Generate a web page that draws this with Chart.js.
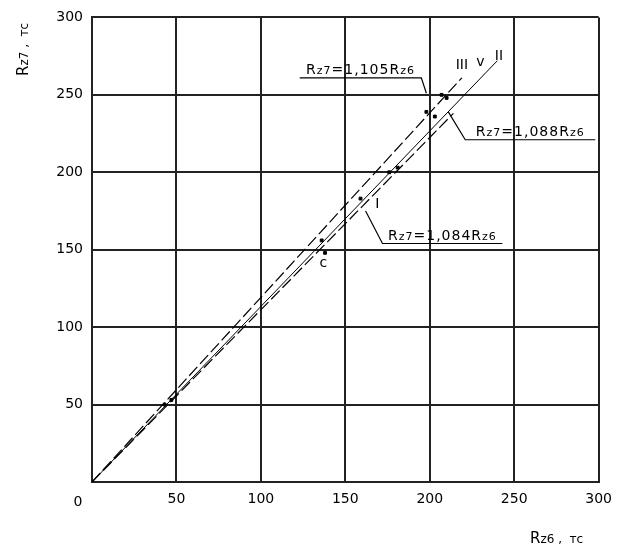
<!DOCTYPE html>
<html>
<head>
<meta charset="utf-8">
<script src="https://cdn.jsdelivr.net/npm/chart.js@4"></script>
<style>
  html, body { margin: 0; padding: 0; background: #fff; }
  #wrap { width: 621px; height: 548px; position: relative; }
</style>
</head>
<body>
<div id="wrap"><canvas id="myChart"></canvas></div>
<script>
// axis ticks (Rz6 and Rz7, тс)
const xTicks = [0, 50, 100, 150, 200, 250, 300];
const yTicks = [0, 50, 100, 150, 200, 250, 300];

// regression lines (Rz6 -> Rz7)
const lineI_x = [0, 214];
const lineI_y = [0, 238];
const lineII_x = [0, 240];
const lineII_y = [0, 272];
const lineIII_x = [0, 219];
const lineIII_y = [0, 261];

// measured points
const pointsX = [43, 47, 136, 138, 159, 176, 181, 198, 203, 207, 210];
const pointsY = [50, 53, 156, 148, 183, 200, 203, 239, 236, 250, 248];

// line labels
const lineLabels = ['III', 'v', 'II', 'I', 'c'];
const lineLabelX = [219, 230, 241, 169, 137];
const lineLabelY = [270, 272, 276, 180, 142];

// formula callouts: text parts, underline start/end, leader tip
const callouts = [
  { parts: [['R', 0], ['z7', 1], ['=1,105', 0], ['R', 0], ['z6', 1]], ux0: 123, ux1: 195, uy: 261, tipX: 198, tipY: 251, side: 'right' },
  { parts: [['R', 0], ['z7', 1], ['=1,088', 0], ['R', 0], ['z6', 1]], ux0: 221, ux1: 298, uy: 221, tipX: 211, tipY: 239, side: 'left' },
  { parts: [['R', 0], ['z7', 1], ['=1,084', 0], ['R', 0], ['z6', 1]], ux0: 172, ux1: 243, uy: 154, tipX: 162, tipY: 175, side: 'left' }
];

const toXY = (xs, ys) => xs.map((x, i) => ({ x: x, y: ys[i] }));

const family = '"DejaVu Sans", "Liberation Sans", Arial, sans-serif';
let bigFont = '14px ' + family;
let smallFont = '11px ' + family;

function partsWidth(ctx, parts) {
  let w = 0;
  parts.forEach(([t, small]) => {
    ctx.font = small ? smallFont : bigFont;
    w += ctx.measureText(t).width;
  });
  return w;
}
function drawParts(ctx, parts, x, y) {
  let cx = x;
  parts.forEach(([t, small]) => {
    ctx.font = small ? smallFont : bigFont;
    ctx.fillText(t, cx, y);
    cx += ctx.measureText(t).width;
  });
}

const extras = {
  id: 'extras',
  afterDatasetsDraw(chart) {
    const ctx = chart.ctx;
    const xs = chart.scales.x, ys = chart.scales.y;
    ctx.save();
    ctx.fillStyle = '#000';
    ctx.strokeStyle = '#000';
    ctx.textBaseline = 'alphabetic';

    // line labels
    ctx.font = bigFont;
    ctx.textAlign = 'center';
    lineLabels.forEach((t, i) => {
      ctx.fillText(t, xs.getPixelForValue(lineLabelX[i]), ys.getPixelForValue(lineLabelY[i]) + 5);
    });

    // callouts
    ctx.textAlign = 'left';
    ctx.letterSpacing = '1px';
    ctx.lineWidth = 1.2;
    callouts.forEach(c => {
      const x0 = xs.getPixelForValue(c.ux0), x1 = xs.getPixelForValue(c.ux1);
      const uy = ys.getPixelForValue(c.uy);
      const w = partsWidth(ctx, c.parts);
      drawParts(ctx, c.parts, x0 + (x1 - x0 - w) / 2, uy - 4);
      ctx.beginPath();
      const from = c.side === 'right' ? x1 : x0;
      ctx.moveTo(c.side === 'right' ? x0 : x1, uy);
      ctx.lineTo(from, uy);
      ctx.lineTo(xs.getPixelForValue(c.tipX), ys.getPixelForValue(c.tipY));
      ctx.stroke();
    });
    ctx.letterSpacing = '0px';

    // "0" under the origin, set to the left as in the original
    ctx.font = bigFont;
    ctx.textAlign = 'center';
    ctx.fillText('0', xs.getPixelForValue(0) - 14, chart.chartArea.bottom + 24);

    // axis titles
    ctx.textAlign = 'left';
    bigFont = '15px ' + family;
    smallFont = '12px ' + family;
    drawParts(ctx, [['R', 0], ['z6', 1], [' ,  тс', 1]], 530, 543);
    ctx.translate(28, 76);
    ctx.rotate(-Math.PI / 2);
    drawParts(ctx, [['R', 0], ['z7', 1], [' ,  тс', 1]], 0, 0);
    bigFont = '14px ' + family;
    smallFont = '11px ' + family;
    ctx.restore();
  }
};

const dashed = { borderColor: '#000', borderWidth: 1.2, borderDash: [12, 4], showLine: true, pointRadius: 0, fill: false };

new Chart(document.getElementById('myChart'), {
  type: 'scatter',
  data: {
    datasets: [
      Object.assign({ label: 'I', data: toXY(lineI_x, lineI_y) }, dashed),
      Object.assign({ label: 'II', data: toXY(lineII_x, lineII_y) }, dashed, { borderDash: [], borderWidth: 1 }),
      Object.assign({ label: 'III', data: toXY(lineIII_x, lineIII_y) }, dashed),
      { label: 'points', data: toXY(pointsX, pointsY), backgroundColor: '#000', borderColor: '#000', pointRadius: 2, pointStyle: 'rect' }
    ]
  },
  options: {
    responsive: true,
    maintainAspectRatio: false,
    animation: false,
    layout: { padding: { top: 12, right: 21, left: 0, bottom: 0 } },
    plugins: { legend: { display: false }, tooltip: { enabled: false } },
    scales: {
      x: {
        type: 'linear', min: 0, max: 300,
        afterBuildTicks: s => { s.ticks = xTicks.map(v => ({ value: v })); },
        afterFit: s => { s.height = 66; },
        grid: { color: '#222', lineWidth: 2, drawTicks: false },
        border: { color: '#222', width: 2 },
        ticks: {
          color: '#000', padding: 9, maxRotation: 0,
          font: { family: family, size: 14 },
          callback: v => v === 0 ? '' : v
        }
      },
      y: {
        type: 'linear', min: 0, max: 300,
        afterBuildTicks: s => { s.ticks = yTicks.map(v => ({ value: v })); },
        afterFit: s => { s.width = 92; },
        grid: { color: '#222', lineWidth: 2, drawTicks: false },
        border: { color: '#222', width: 2 },
        ticks: {
          color: '#000', padding: 9,
          font: { family: family, size: 14 },
          callback: v => v === 0 ? '' : v
        }
      }
    }
  },
  plugins: [extras]
});
</script>
</body>
</html>
